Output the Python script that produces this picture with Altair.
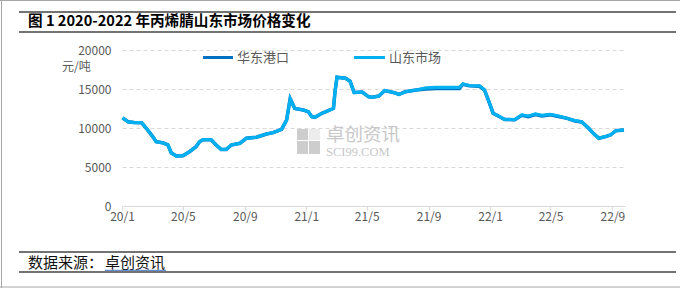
import altair as alt
import pandas as pd

# ---------------- data ----------------
dates = [
    "2020-01-02", "2020-01-13", "2020-01-25", "2020-02-09", "2020-02-19", "2020-03-02",
    "2020-03-09", "2020-03-22", "2020-04-01", "2020-04-08", "2020-04-18", "2020-05-01",
    "2020-05-14", "2020-05-27", "2020-06-03", "2020-06-10", "2020-06-26", "2020-07-06",
    "2020-07-16", "2020-07-26", "2020-08-05", "2020-08-22", "2020-09-04", "2020-09-24",
    "2020-10-14", "2020-10-27", "2020-11-13", "2020-11-23", "2020-11-30", "2020-12-09",
    "2020-12-26", "2021-01-05", "2021-01-12", "2021-01-18", "2021-02-01", "2021-02-17",
    "2021-02-24", "2021-02-27", "2021-03-03", "2021-03-20", "2021-03-29", "2021-04-06",
    "2021-04-22", "2021-05-05", "2021-05-12", "2021-05-25", "2021-06-06", "2021-06-25",
    "2021-07-04", "2021-07-17", "2021-08-07", "2021-08-27", "2021-09-16", "2021-11-01",
    "2021-11-08", "2021-11-21", "2021-12-11", "2021-12-21", "2021-12-31", "2022-01-07",
    "2022-01-20", "2022-01-30", "2022-02-19", "2022-03-05", "2022-03-18", "2022-04-01",
    "2022-04-14", "2022-05-01", "2022-05-17", "2022-06-03", "2022-06-19", "2022-07-02",
    "2022-07-16", "2022-07-25", "2022-08-05", "2022-08-18", "2022-08-28", "2022-09-08",
    "2022-09-24",
]
shandong = [
    11300, 10800, 10700, 10680, 9900, 8900,
    8240, 8100, 7850, 6800, 6400, 6450,
    6960, 7600, 8240, 8500, 8500, 7820,
    7250, 7250, 7820, 8040, 8680, 8810,
    9230, 9400, 9830, 11030, 13750, 12520,
    12310, 12090, 11450, 11370, 11880, 12310,
    12520, 14650, 16500, 16370, 16000, 14550,
    14600, 14000, 13940, 14100, 14800, 14530,
    14300, 14650, 14870, 15150, 15200, 15200,
    15640, 15450, 15400, 14870, 13170, 11900,
    11450, 11100, 11070, 11670, 11540, 11800,
    11620, 11760, 11540, 11240, 10940, 10800,
    9960, 9320, 8680, 8890, 9100, 9650,
    9740,
]
huadong = [
    11300, 10800, 10700, 10680, 9900, 8900,
    8240, 8100, 7850, 6800, 6400, 6450,
    6960, 7600, 8240, 8500, 8500, 7820,
    7250, 7250, 7820, 8040, 8680, 8810,
    9230, 9400, 9830, 11030, 13750, 12520,
    12310, 12090, 11450, 11370, 11880, 12310,
    12520, 14650, 16500, 16370, 16000, 14550,
    14600, 14000, 13940, 14100, 14800, 14530,
    14300, 14650, 14870, 15000, 15050, 15050,
    15600, 15400, 15350, 14870, 13170, 11900,
    11450, 11100, 11070, 11620, 11450, 11720,
    11540, 11700, 11480, 11240, 10900, 10780,
    9960, 9320, 8680, 8890, 9100, 9650,
    9740,
]
series_names = ["华东港口", "山东市场"]
series_colors = ["#0070C0", "#00B0F0"]
y_ticks = [0, 5000, 10000, 15000, 20000]
x_tick_months = [(2020, 1), (2020, 5), (2020, 9), (2021, 1), (2021, 5),
                 (2021, 9), (2022, 1), (2022, 5), (2022, 9)]
title_text = "图 1 2020-2022 年丙烯腈山东市场价格变化"
unit_text = "元/吨"
source_prefix = "数据来源："
source_name = "卓创资讯"
wm_cn = "卓创资讯"
wm_en = "SCI99.COM"

rows = []
for name, vals in zip(series_names, [huadong, shandong]):
    for d, v in zip(dates, vals):
        rows.append({"date": d + "T00:00:00", "value": v, "series": name})
df = pd.DataFrame(rows)

FONT = "Noto Sans CJK SC"
W, H = 503, 156
PAD = {"left": 122, "top": 50, "right": 680 - 122 - W, "bottom": 288 - 50 - H}

x_enc = alt.X(
    "date:T",
    title=None,
    scale=alt.Scale(domain=[alt.DateTime(year=2020, month=1, date=1, hours=0),
                            alt.DateTime(year=2022, month=9, date=26, hours=0)]),
    axis=alt.Axis(
        values=[alt.DateTime(year=y, month=m, date=1, hours=0) for y, m in x_tick_months],
        format="%y/%-m", labelFlush=False, labelOverlap=False, grid=False,
        domainColor="#d9d9d9", tickColor="#d9d9d9", tickSize=4,
        labelColor="#595959", labelFontSize=12, labelPadding=1, labelFont=FONT,
    ),
)
y_enc = alt.Y(
    "value:Q",
    title=None,
    scale=alt.Scale(domain=[0, 20000], nice=False),
    axis=alt.Axis(
        values=y_ticks, format="d", domain=False, ticks=False, grid=True,
        gridColor="#d9d9d9", gridDash=[4, 3], gridWidth=1,
        labelColor="#595959", labelFontSize=12, labelPadding=11, labelFont=FONT,
    ),
)

base = alt.Chart(df).encode(x=x_enc, y=y_enc)
line_hd = base.transform_filter(alt.datum.series == series_names[0]).mark_line(
    color=series_colors[0], strokeWidth=3.5)
line_sd = base.transform_filter(alt.datum.series == series_names[1]).mark_line(
    color=series_colors[1], strokeWidth=3.2)


def one(txt=""):
    return alt.Chart(pd.DataFrame({"t": [txt]}))


def text(txt, x, y, size, color="#000000", weight="normal", font=FONT, align="left"):
    return one(txt).mark_text(
        align=align, baseline="middle", fontSize=size, color=color,
        fontWeight=weight, font=font,
    ).encode(text="t:N", x=alt.value(x), y=alt.value(y))


def hrule(x1, x2, y, color, width):
    return one().mark_rule(color=color, strokeWidth=width).encode(
        x=alt.value(x1), x2=alt.value(x2), y=alt.value(y))


def vrule(x, y1, y2, color, width):
    return one().mark_rule(color=color, strokeWidth=width).encode(
        x=alt.value(x), y=alt.value(y1), y2=alt.value(y2))


def rect(x1, x2, y1, y2, color):
    return one().mark_rect(color=color).encode(
        x=alt.value(x1), x2=alt.value(x2), y=alt.value(y1), y2=alt.value(y2))


layers = [
    # frame
    vrule(-120.5, -50, 238, "#a6a6a6", 1),
    hrule(-122, 558, -49.5, "#a6a6a6", 1),
    hrule(-122, 558, 237, "#a6a6a6", 1),
    # title
    hrule(-103, 554, -38, "#444444", 1.5),
    hrule(-103, 554, -18, "#444444", 1.5),
    text(title_text, -94, -28, 14.6, "#000000", "bold"),
    # watermark
    rect(175, 186, 79, 90, "#cdcdcd"),
    rect(187, 198, 79, 90, "#ececec"),
    rect(175, 186, 91, 104, "#cdcdcd"),
    rect(187, 198, 91, 104, "#cdcdcd"),
    text(wm_cn, 204, 85, 18.5, "#c8c8c8"),
    text(wm_en, 204, 101.5, 12.5, "#c8c8c8", font="Liberation Serif"),
    # unit
    text(unit_text, -60, 16.5, 12, "#595959"),
    # lines
    line_hd,
    line_sd,
    # legend
    hrule(81, 111, 7.5, series_colors[0], 3),
    text(series_names[0], 115, 7.5, 13, "#595959"),
    hrule(232, 263, 7.5, series_colors[1], 3),
    text(series_names[1], 267, 7.5, 13, "#595959"),
    # source
    hrule(-103, 554, 202, "#444444", 1.5),
    hrule(-103, 554, 222, "#444444", 1.5),
    text(source_prefix, -94, 213, 15, "#111111"),
    text(source_name, -17, 213, 15, "#111111"),
    hrule(-17, 44, 220.3, "#4472C4", 1),
]

chart = alt.layer(*layers).properties(
    width=W, height=H, padding=PAD,
    autosize=alt.AutoSizeParams(type="none"),
    background="white",
).configure_view(strokeWidth=0)

chart.save("out.html", embed_options={"renderer": "svg", "actions": False})
